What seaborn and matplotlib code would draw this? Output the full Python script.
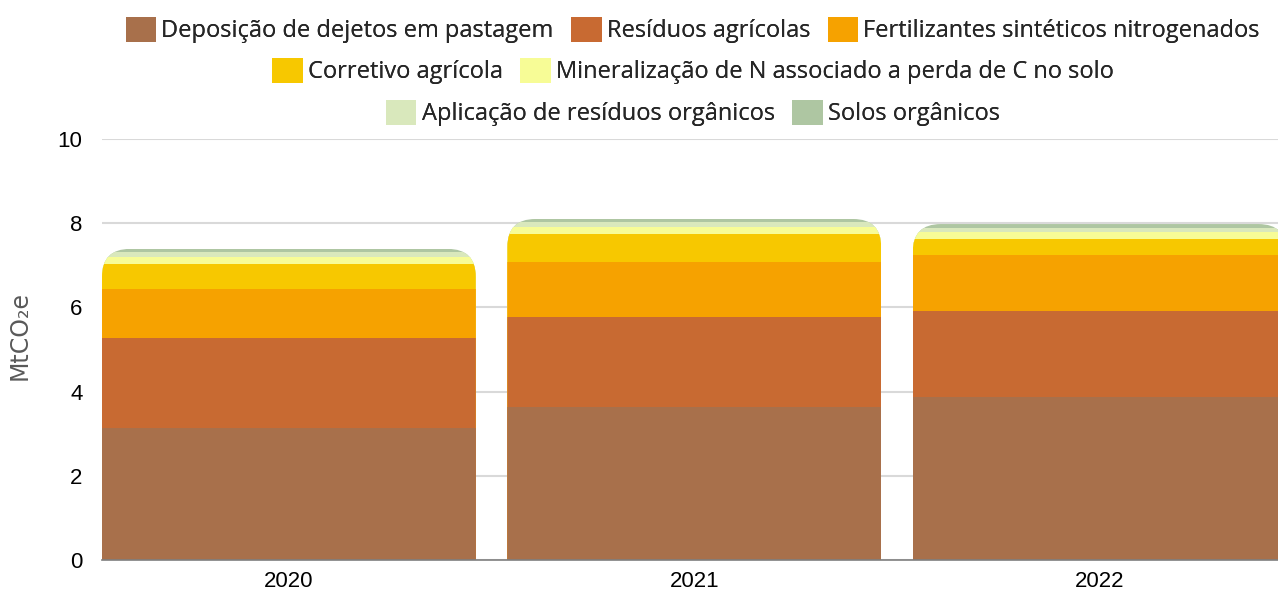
import numpy as np
import pandas as pd
import seaborn as sns
import matplotlib.pyplot as plt
from matplotlib.patches import Patch, FancyBboxPatch

sns.set_style("white")
plt.rcParams["font.family"] = ["Liberation Sans", "DejaVu Sans"]

years = ["2020", "2021", "2022"]
categorias = [
    "Deposição de dejetos em pastagem",
    "Resíduos agrícolas",
    "Fertilizantes sintéticos nitrogenados",
    "Corretivo agrícola",
    "Mineralização de N associado a perda de C no solo",
    "Aplicação de resíduos orgânicos",
    "Solos orgânicos",
]
deposicao = [3.13, 3.63, 3.87]
residuos = [2.14, 2.14, 2.04]
fertilizantes = [1.17, 1.31, 1.33]
corretivo = [0.59, 0.66, 0.38]
mineralizacao = [0.17, 0.17, 0.17]
aplicacao = [0.12, 0.12, 0.10]
solos = [0.07, 0.07, 0.09]
cores = ["#A8704B", "#C86A32", "#F6A200", "#F7C800", "#F7FC96", "#D9E8BC", "#AEC6A2"]

series = [deposicao, residuos, fertilizantes, corretivo, mineralizacao, aplicacao, solos]
df = pd.DataFrame({c: v for c, v in zip(categorias, series)}, index=years)
acum = df.cumsum(axis=1)

fig = plt.figure(figsize=(12.78, 5.93), dpi=100)
ax = fig.add_axes([102 / 1278, 1 - 560 / 593, 1 - 102 / 1278, 421 / 593])

largura = 0.922
# draw from the top layer down so each lower layer covers the one above
for cat, cor in list(zip(categorias, cores))[::-1]:
    sns.barplot(x=years, y=acum[cat].values, color=cor, width=largura,
                saturation=1, ax=ax, zorder=2)

# rounded top corners for each stacked bar
rx = 28 / 405.5
ry = 28 / 42.1
totais = acum.iloc[:, -1].values
clips = []
for i, tot in enumerate(totais):
    clip = FancyBboxPatch((i - largura / 2, -3), largura, tot + 3,
                          boxstyle=f"round,pad=0,rounding_size={rx}",
                          mutation_aspect=ry / rx, transform=ax.transData)
    clips.append(clip)
for p in ax.patches:
    xc = p.get_x() + p.get_width() / 2
    p.set_clip_path(clips[int(round(xc))])
    p.set_linewidth(0)

ax.set_ylim(0, 10)
ax.set_xlim(-largura / 2, 2.44)
ax.set_yticks([0, 2, 4, 6, 8, 10])
ax.yaxis.grid(True, color="#D9D9D9", linewidth=1.5, zorder=0)
ax.set_axisbelow(True)
for s in ["top", "right", "left"]:
    ax.spines[s].set_visible(False)
ax.spines["bottom"].set_color("#7F7F7F")
ax.spines["bottom"].set_linewidth(1.2)
ax.tick_params(axis="both", length=0, labelsize=16, colors="black")
ax.tick_params(axis="y", pad=14)
ax.tick_params(axis="x", pad=8)
ax.set_xlabel("")
ax.set_ylabel("MtCO₂e", fontsize=17, color="#595959", fontfamily=["DejaVu Sans"])
ax.yaxis.set_label_coords(-0.0595, 0.534)

linhas = [[0, 1, 2], [3, 4], [5, 6]]
ys = [1 - 30 / 593, 1 - 71 / 593, 1 - 113 / 593]
for idx, yy in zip(linhas, ys):
    handles = [Patch(facecolor=cores[i], edgecolor="none") for i in idx]
    leg = fig.legend(handles, [categorias[i] for i in idx], ncol=len(idx),
                     loc="center", bbox_to_anchor=(693 / 1278, yy),
                     frameon=False, prop={"family": ["Open Sans", "DejaVu Sans"], "size": 17},
                     handlelength=1.28, handleheight=1.28, handletextpad=0.22,
                     columnspacing=0.75, borderpad=0, borderaxespad=0)
    fig.add_artist(leg)

fig.savefig("out.png", dpi=100)
